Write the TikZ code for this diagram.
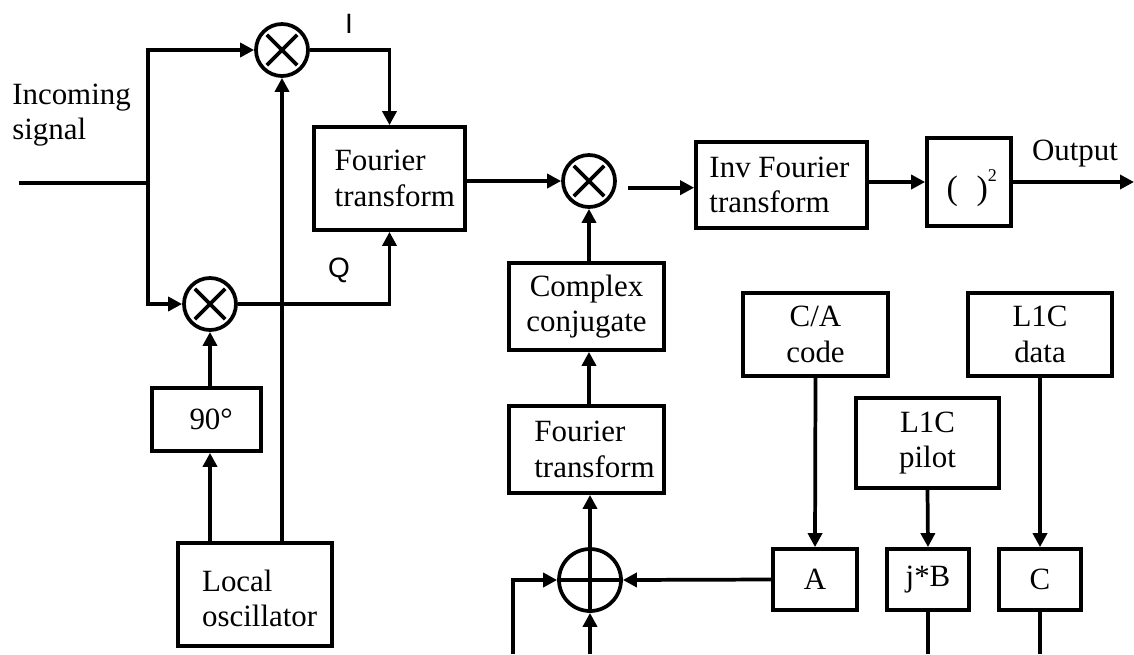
\documentclass[tikz,border=0pt]{standalone}
\usepackage{fontspec}
\setmainfont{Liberation Serif}
\newfontfamily\lsans{Liberation Sans}
\usetikzlibrary{arrows.meta}

\begin{document}
\begin{tikzpicture}[x=0.75pt,y=-0.75pt,
  font=\fontsize{23.2}{26.5}\selectfont,
  lw/.style={line width=2.8pt},
  arr/.style={lw,-{Triangle[length=10.5pt,width=10.5pt]}},
  blk/.style 2 args={draw,lw,rectangle,inner sep=0pt,
    minimum width=#1*0.75pt,minimum height=#2*0.75pt,align=center},
  mix/.style={draw,lw,circle,inner sep=0pt,minimum size=#1*0.75pt},
  xcross/.style={lw,shorten <=4.8pt,shorten >=4.8pt},
  txt/.style={inner sep=0pt,align=left},
  sanslbl/.style={inner sep=0pt,font=\lsans\fontsize{21}{21}\selectfont}]
\useasboundingbox (0,0) rectangle (1134,654);

% mixers and summer
\node[mix=52] (mulI) at (282,50) {};
\node[mix=52] (mulQ) at (210,304) {};
\node[mix=52] (mulC) at (589,181) {};
\node[mix=62] (sum) at (590,580) {};
\foreach \m in {mulI,mulQ,mulC}{
  \draw[xcross] (\m.north west) -- (\m.south east);
  \draw[xcross] (\m.north east) -- (\m.south west);
}
\draw[lw] (sum.north) -- (sum.south) (sum.west) -- (sum.east);

% processing blocks
\node[blk={151}{103}] (ft1) at (389.5,178.5) {};
\node[txt] (ft1t) at ([xshift=4pt]ft1.center) {Fourier\\transform};
\node[blk={171}{86}] (ift) at (781.5,185) {};
\node[txt] (iftt) at ([xshift=-1.5pt]ift.center) {Inv Fourier\\transform};
\node[blk={84}{88}] (sq) at (969,182) {};
\node[inner sep=0pt] (sqt) at ([xshift=2pt,yshift=-4.5pt]sq.center)
  {\fontsize{25.5}{26}\selectfont(\hspace{0.55em})\raisebox{14pt}{\fontsize{13.5}{14}\selectfont 2}};
\node[blk={155}{87}] (cc) at (586.5,306.5) {Complex\\conjugate};
\node[blk={155}{87}] (ft2) at (586.5,449.5) {};
\node[txt] (ft2t) at ([xshift=6pt]ft2.center) {Fourier\\transform};
\node[blk={109}{63}] (nine) at (206.5,419.5) {};
\node[txt] (ninet) at ([xshift=3.5pt]nine.center) {90°};
\node[blk={154}{103}] (lo) at (255,594.5) {};
\node[txt] (lot) at ([xshift=3.5pt,yshift=-3pt]lo.center) {Local\\oscillator};

% code sources
\node[blk={145}{83}] (ca) at (815.5,334.5) {C/A\\code};
\node[blk={144}{83}] (dat) at (1040,334.5) {L1C\\data};
\node[blk={143}{90}] (pil) at (927.5,443) {L1C\\pilot};
\node[blk={84}{61}] (A) at (815,579.5) {A};
\node[blk={82}{61}] (jB) at (928,579.5) {j*B};
\node[blk={82}{61}] (C) at (1040,579.5) {C};

% labels
\node[txt,anchor=north west] (inlbl) at (12,83.5) {Incoming\\signal};
\node[inner sep=0pt,anchor=base] (outlbl) at (1075,160) {Output};
\node[sanslbl] (Ilbl) at (349,23.5) {I};
\node[sanslbl] (Qlbl) at (339,270) {Q};

% input split into I and Q branches
\coordinate (inL) at (19,183);
\coordinate (sp) at (148,183);
\draw[lw] (inL) -- (sp);
\draw[arr] (sp) |- (mulI.west);
\draw[arr] (sp) |- (mulQ.west);
\draw[arr] (mulI.east) -| (ft1.north);
\draw[arr] (mulQ.east) -| (ft1.south);

% local oscillator feeds
\draw[arr] (lo.north -| mulI.south) -- (mulI.south);
\draw[arr] (lo.north -| mulQ.south) -- (nine.south -| mulQ.south);
\draw[arr] (nine.north -| mulQ.south) -- (mulQ.south);

% correlation chain
\draw[arr] (ft1.east |- mulC.west) -- (mulC.west);
\coordinate (m2) at ([shift={(8pt,-5pt)}]mulC.east);
\draw[arr] (m2) -- (m2 -| ift.west);
\draw[arr] (ift.east |- sq.west) -- (sq.west);
\coordinate (out) at (1134,182);
\draw[arr] (sq.east) -- (out);

% replica branch
\draw[arr] (cc.north -| mulC.south) -- (mulC.south);
\draw[arr] (ft2.north -| mulC.south) -- (cc.south -| mulC.south);
\draw[arr] (sum.north) -- (sum.north |- ft2.south);
\draw[arr] (A.west) -- (sum.east);
\coordinate (sL) at (513,654);
\draw[arr] (sL) |- (sum.west);
\coordinate (sB) at (590,654);
\draw[arr] (sB) -- (sum.south);

\draw[arr] (ca.south) -- (A.north);
\draw[arr] (pil.south) -- (jB.north);
\draw[arr] (dat.south) -- (C.north);
\coordinate (jBend) at (928,654);
\coordinate (Cend) at (1040,654);
\draw[lw] (jB.south) -- (jBend);
\draw[lw] (C.south) -- (Cend);
\end{tikzpicture}
\end{document}
